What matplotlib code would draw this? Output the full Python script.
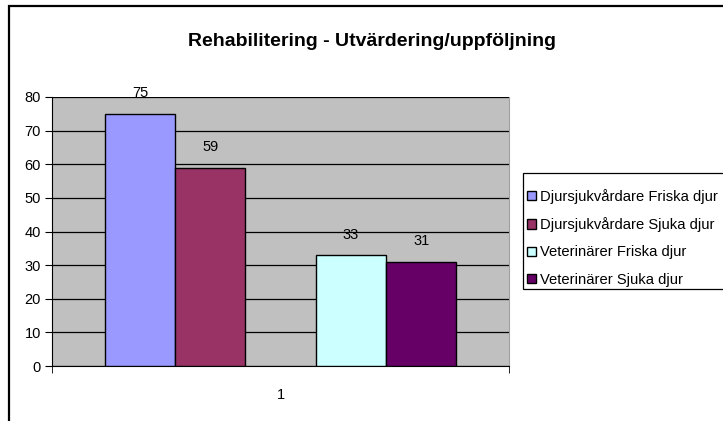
import matplotlib
matplotlib.use('Agg')
import matplotlib.pyplot as plt
import matplotlib.patches

plt.rcParams['font.family'] = ['Liberation Sans', 'DejaVu Sans']

title = 'Rehabilitering - Utvärdering/uppföljning'
category = '1'
series_names = [
    'Djursjukvårdare Friska djur',
    'Djursjukvårdare Sjuka djur',
    'Veterinärer Friska djur',
    'Veterinärer Sjuka djur',
]
values = [75, 59, 33, 31]
colors = ['#9999FF', '#993366', '#CCFFFF', '#660066']
y_ticks = [0, 10, 20, 30, 40, 50, 60, 70, 80]

W, H = 723, 421


def main():
    fig = plt.figure(figsize=(W / 100, H / 100), dpi=100)
    fig.patch.set_facecolor('white')

    # outer chart border (only left/top visible in the crop)
    fig.add_artist(matplotlib.patches.Rectangle(
        (8.5 / W, -0.1), 1.2, 1.1 - 6.5 / H,
        transform=fig.transFigure, fill=False, edgecolor='black', linewidth=1.6))

    ax = fig.add_axes([52 / W, (H - 366) / H, (509 - 52) / W, (366 - 97) / H])
    ax.set_facecolor('#C0C0C0')

    slots = [0, 1, 3, 4]
    bars = []
    for slot, val, col, name in zip(slots, values, colors, series_names):
        b = ax.bar(slot, val, width=1.0, align='edge', color=col,
                   edgecolor='black', linewidth=1.0, label=name, zorder=3)
        bars.append(b)
        ax.text(slot + 0.5, val + 4.0, str(val), ha='center', va='bottom',
                fontsize=10.5, zorder=4)

    ax.set_xlim(-0.75, 5.75)
    ax.set_ylim(0, 80)
    ax.set_yticks(y_ticks)
    ax.set_yticklabels([str(t) for t in y_ticks], fontsize=10.5)
    ax.yaxis.grid(True, color='black', linewidth=0.9, zorder=1)
    ax.set_axisbelow(True)

    ax.set_xticks([2.5])
    ax.set_xticklabels([category], fontsize=10.5)
    ax.set_xticks([-0.75, 5.75], minor=True)
    ax.tick_params(axis='x', which='major', length=0, pad=16)
    ax.tick_params(axis='x', which='minor', length=5, direction='out', color='black')
    ax.tick_params(axis='y', length=5, direction='out', color='black', pad=3)

    ax.spines[['top']].set_visible(False)
    ax.spines['right'].set_color('#A0A0A0')
    ax.spines['left'].set_color('black')
    ax.spines['bottom'].set_color('black')

    fig.text(372 / W, 1 - 41 / H, title, ha='center', va='center',
             fontsize=14, fontweight='bold')

    # legend box frame
    fig.add_artist(matplotlib.patches.Rectangle(
        (522.5 / W, 1 - 288.5 / H), 0.5, 116 / H,
        transform=fig.transFigure, fill=True, facecolor='white',
        edgecolor='black', linewidth=0.9))

    fig.legend(handles=[b[0] for b in bars], labels=series_names,
               loc='upper left', bbox_to_anchor=(527 / W, 1 - 189 / H),
               fontsize=10.6, frameon=False,
               handlelength=0.6, handleheight=0.6, handletextpad=0.3,
               labelspacing=0.9, borderpad=0, borderaxespad=0)

    fig.savefig('out.png', dpi=100)


if __name__ == '__main__':
    main()
